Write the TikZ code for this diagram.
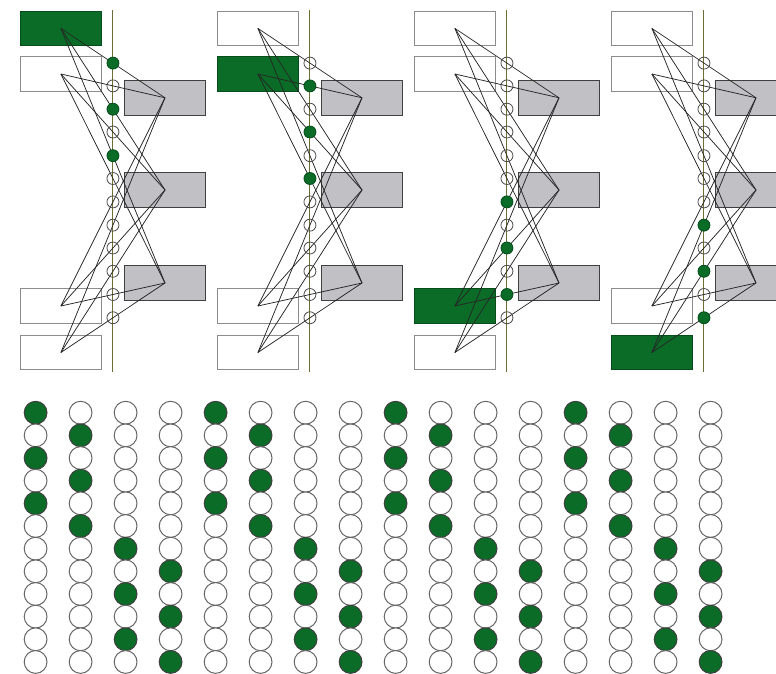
\documentclass[tikz,border=0pt]{standalone}
\usepackage{tikz}
\usetikzlibrary{calc}
\definecolor{leafgreen}{RGB}{10,108,38}
\definecolor{boxgrey}{RGB}{192,192,197}
\definecolor{axisolive}{RGB}{110,110,50}
\tikzstyle{boxwhite}=[rectangle, draw=gray!90, fill=white, line width=1pt, minimum width=81.5pt, minimum height=34.6pt, inner sep=0pt]
\tikzstyle{boxgreen}=[boxwhite, draw=leafgreen!70!black, fill=leafgreen]
\tikzstyle{boxgray}=[boxwhite, draw=black!75, fill=boxgrey]
\tikzstyle{pointwhite}=[circle, draw=black!70, minimum size=12pt, inner sep=0pt, line width=0.8pt]
\tikzstyle{pointgreen}=[pointwhite, draw=leafgreen!70!black, fill=leafgreen]
\tikzstyle{bigwhite}=[circle, draw=black!60, fill=white, minimum size=22.8pt, inner sep=0pt, line width=1pt]
\tikzstyle{biggreen}=[bigwhite, draw=black!75, fill=leafgreen]
\tikzstyle{link}=[draw=black!85, line width=0.75pt]
\tikzstyle{axisline}=[draw=axisolive, line width=0.9pt]

\begin{document}
\begin{tikzpicture}[x=1pt, y=-1pt]
  \useasboundingbox (0,0) rectangle (776,674);
  \clip (0,0) rectangle (776,674);
  % the four panels
  \foreach \p in {1,...,4} {
    \begin{scope}[xshift={(\p-1)*197pt}]
      \foreach \i/\y in {1/28.4, 2/74, 3/306, 4/352.5} {
        \ifnum\i=\p \def\st{boxgreen}\else\def\st{boxwhite}\fi
        \node (L\p\i) at (60.9,\y)[\st] {};
      }
      \foreach \j/\y in {1/97.8, 2/190, 3/283} {
        \node (R\p\j) at (165,\y)[boxgray] {};
      }
      \coordinate (top\p) at (112.9,10);
      \coordinate (bot\p) at (112.9,372);
      \path [axisline] (top\p) -- (bot\p);
      \foreach \i in {1,...,4} {
        \foreach \j in {1,2,3} {
          \path [link] (L\p\i.center) -- (R\p\j.center);
        }
      }
      % crossing points on the axis
      \foreach \i in {1,...,4} {
        \ifnum\i=\p \def\st{pointgreen}\else\def\st{pointwhite}\fi
        \foreach \j in {1,2,3} {
          \node (c\p\i\j) at ($(L\p\i.center)!0.5!(R\p\j.center)$)[\st] {};
        }
      }
    \end{scope}
  }
  % table of the patterns
  \foreach \c in {1,...,16} {
    \pgfmathtruncatemacro\b{mod(\c-1,4)+1}
    \foreach \r in {1,...,12} {
      \pgfmathtruncatemacro\d{\r-\b-(\b>2)*4}
      \pgfmathtruncatemacro\on{(\d>=0)&&(\d<=4)&&(mod(\d,2)==0)}
      \ifnum\on=1 \def\st{biggreen}\else\def\st{bigwhite}\fi
      \node (g\c-\r) at ({35.6+45*(\c-1)},{412.7+22.66*(\r-1)})[\st] {};
    }
  }
\end{tikzpicture}
\end{document}
